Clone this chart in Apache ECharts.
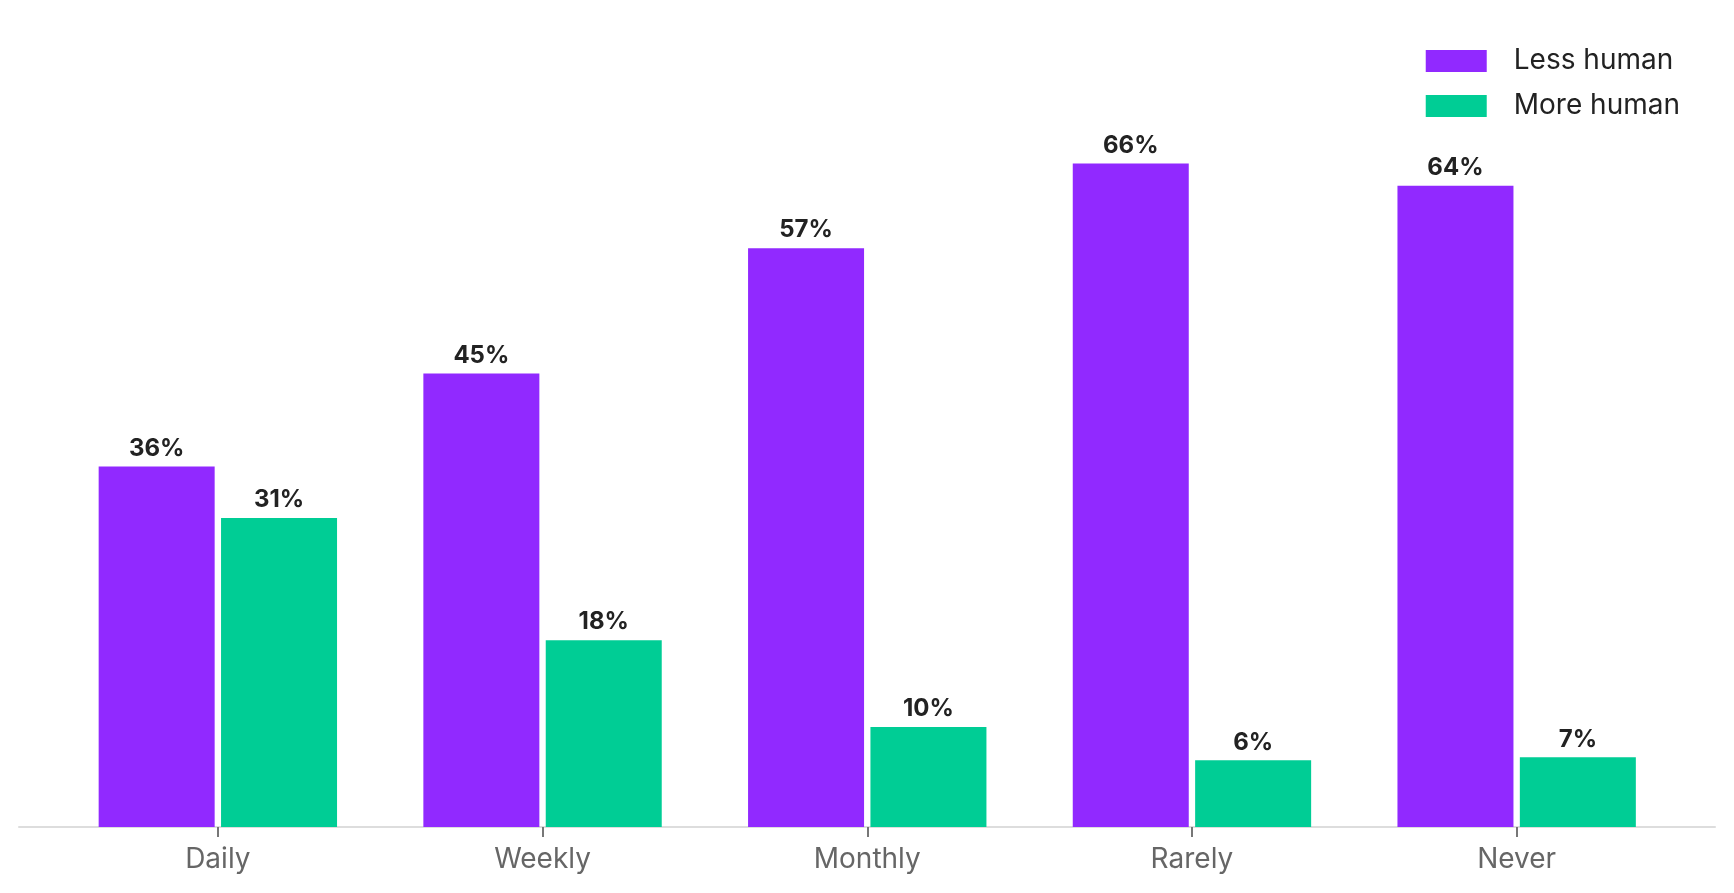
<!DOCTYPE html>
<html>
<head>
<meta charset="utf-8">
<title>Less human / More human</title>
<script src="https://cdn.jsdelivr.net/npm/echarts@6/dist/echarts.min.js"></script>
<style>
  html, body { margin: 0; padding: 0; background: #fff; }
  #chart { width: 1734px; height: 893px; }
</style>
</head>
<body>
<div id="chart"></div>
<script>
// categories and values
const categories = ['Daily', 'Weekly', 'Monthly', 'Rarely', 'Never']
const lessHuman = [35.7, 44.9, 57.3, 65.7, 63.5]
const moreHuman = [30.6, 18.5, 9.9, 6.6, 6.9]
// printed labels above bars
const lessLabels = ['36%', '45%', '57%', '66%', '64%']
const moreLabels = ['31%', '18%', '10%', '6%', '7%']

const FONT = 'Inter, "Noto Sans", sans-serif'

const chart = echarts.init(document.getElementById('chart'), null, { renderer: 'canvas' })

const barLabel = (labels) => ({
  show: true,
  position: 'top',
  distance: 6,
  fontFamily: FONT,
  fontSize: 24,
  fontWeight: 700,
  color: '#222222',
  formatter: (p) => labels[p.dataIndex]
})

const option = {
  backgroundColor: '#ffffff',
  animation: false,
  legend: {
    orient: 'vertical',
    right: 49,
    top: 42,
    align: 'left',
    itemWidth: 61,
    itemHeight: 22,
    itemGap: 17,
    icon: 'rect',
    textStyle: {
      fontFamily: FONT,
      fontSize: 28,
      color: '#222222',
      padding: [0, 0, 0, 22]
    },
    data: ['Less human', 'More human']
  },
  grid: [
    { left: 55.5, right: 55, bottom: 66, top: 120 },
    // wider grid only to draw the long baseline
    { left: 19, right: 19, bottom: 66, height: 10 }
  ],
  xAxis: [
    {
      type: 'category',
      gridIndex: 0,
      data: categories,
      axisLine: { show: false },
      axisTick: {
        show: true,
        alignWithLabel: true,
        length: 10,
        lineStyle: { color: '#777777', width: 2 }
      },
      axisLabel: {
        fontFamily: FONT,
        fontSize: 28,
        color: '#666666',
        margin: 19
      }
    },
    {
      type: 'value',
      gridIndex: 1,
      min: 0,
      max: 1,
      axisLine: { show: true, lineStyle: { color: '#dddddd', width: 2 } },
      axisTick: { show: false },
      axisLabel: { show: false },
      splitLine: { show: false }
    }
  ],
  yAxis: [
    { type: 'value', gridIndex: 0, min: 0, max: 70, show: false, splitLine: { show: false } },
    { type: 'value', gridIndex: 1, show: false, splitLine: { show: false } }
  ],
  series: [
    {
      name: 'Less human',
      type: 'bar',
      xAxisIndex: 0,
      yAxisIndex: 0,
      data: lessHuman,
      barWidth: 116,
      barGap: '5.5%',
      itemStyle: { color: '#9129FF' },
      label: barLabel(lessLabels)
    },
    {
      name: 'More human',
      type: 'bar',
      xAxisIndex: 0,
      yAxisIndex: 0,
      data: moreHuman,
      barWidth: 116,
      barGap: '5.5%',
      itemStyle: { color: '#00CD95' },
      label: barLabel(moreLabels)
    }
  ]
}

chart.setOption(option)
</script>
</body>
</html>
